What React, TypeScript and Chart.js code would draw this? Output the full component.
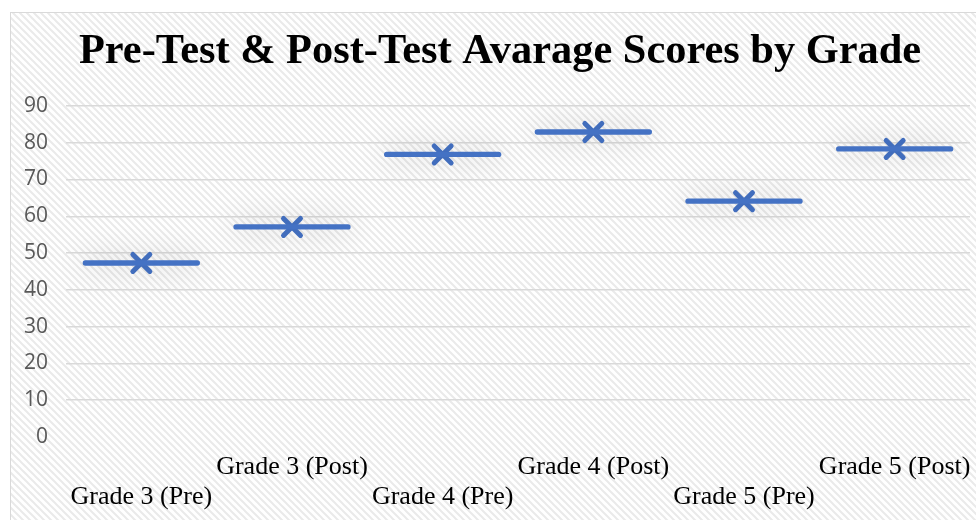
import React, { useEffect, useRef } from "react";
import { Chart, registerables } from "chart.js";

Chart.register(...registerables);

const TITLE = "Pre-Test & Post-Test Avarage Scores by Grade";
const categories = [
  "Grade 3 (Pre)",
  "Grade 3 (Post)",
  "Grade 4 (Pre)",
  "Grade 4 (Post)",
  "Grade 5 (Pre)",
  "Grade 5 (Post)",
];
const scores = [47.3, 57.1, 76.8, 82.9, 64.1, 78.3];
const yMin = 0;
const yMax = 90;
const yStep = 10;

const BLUE = "#4472C4";

function makePattern(): CanvasPattern | string {
  const n = 7;
  const c = document.createElement("canvas");
  c.width = n;
  c.height = n;
  const g = c.getContext("2d");
  if (!g) return "#fff";
  g.fillStyle = "#ffffff";
  g.fillRect(0, 0, n, n);
  g.strokeStyle = "#eaeaea";
  g.lineWidth = 2;
  g.beginPath();
  g.moveTo(-1, -1);
  g.lineTo(n + 1, n + 1);
  g.moveTo(-n - 1, -1);
  g.lineTo(1, n + 1);
  g.moveTo(n - 1, -1);
  g.lineTo(2 * n + 1, n + 1);
  g.stroke();
  const p = g.createPattern(c, "repeat");
  return p || "#fff";
}

const bgPlugin = {
  id: "bgPlugin",
  afterLayout(chart: any) {
    const t = chart.titleBlock;
    if (t) t.left += 20;
  },
  beforeDraw(chart: any) {
    const ctx = chart.ctx;
    ctx.save();
    ctx.fillStyle = "#ffffff";
    ctx.fillRect(0, 0, chart.width, chart.height);
    ctx.fillStyle = makePattern();
    ctx.fillRect(10, 12, chart.width - 10, chart.height - 12);
    ctx.strokeStyle = "#d9d9d9";
    ctx.lineWidth = 1;
    ctx.strokeRect(10.5, 12.5, chart.width + 20, chart.height + 20);
    ctx.restore();
  },
};

const glowPlugin = {
  id: "glowPlugin",
  beforeDatasetDraw(chart: any, args: any) {
    const ctx = chart.ctx;
    ctx.save();
    ctx.lineCap = "round";
    ctx.lineJoin = "round";
    if (args.index === 0) {
      ctx.shadowColor = "rgba(0,0,0,0.3)";
      ctx.shadowBlur = 30;
      ctx.shadowOffsetY = 0;
    }
  },
  afterDatasetDraw(chart: any) {
    chart.ctx.restore();
  },
};

export default function App() {
  const ref = useRef<HTMLCanvasElement | null>(null);
  useEffect(() => {
    if (!ref.current) return;
    const chart = new Chart(ref.current, {
      type: "line",
      data: {
        labels: categories,
        datasets: [
          {
            data: scores,
            showLine: false,
            pointStyle: "line",
            pointRadius: 56,
            pointHoverRadius: 56,
            pointBorderWidth: 5.3,
            pointHoverBorderWidth: 5.3,
            borderColor: BLUE,
            backgroundColor: BLUE,
            clip: false,
          },
          {
            data: scores,
            showLine: false,
            pointStyle: "crossRot",
            pointRadius: 12,
            pointHoverRadius: 12,
            pointBorderWidth: 5,
            pointHoverBorderWidth: 5,
            borderColor: BLUE,
            backgroundColor: BLUE,
            clip: false,
          },
        ],
      },
      options: {
        animation: false,
        responsive: false,
        events: [],
        layout: { autoPadding: false, padding: { left: 10, right: 6, top: 0, bottom: 0 } },
        plugins: {
          legend: { display: false },
          tooltip: { enabled: false },
          title: {
            display: true,
            text: TITLE,
            color: "#000000",
            font: { family: "'Liberation Serif', 'Times New Roman', serif", size: 42.4, weight: "bold", lineHeight: 1.2 },
            padding: { top: 27, bottom: 28 },
          },
        },
        scales: {
          x: {
            offset: true,
            grid: { display: false, drawTicks: false },
            border: { display: false },
            afterFit: (s: any) => {
              s.height = 83;
              s.paddingLeft = 0;
              s.paddingRight = 0;
            },
            ticks: {
              autoSkip: false,
              maxRotation: 0,
              minRotation: 0,
              padding: 15,
              color: "#000000",
              font: { family: "'Liberation Serif', 'Times New Roman', serif", size: 26, lineHeight: 30 / 26 },
              callback: (_v: any, i: number) => (i % 2 === 0 ? ["", categories[i]] : [categories[i]]),
            },
          },
          y: {
            min: yMin,
            max: yMax,
            grid: {
              drawTicks: false,
              color: (c: any) => (c.tick && c.tick.value === 0 ? "rgba(0,0,0,0)" : "#d9d9d9"),
              lineWidth: 1.5,
            },
            border: { display: false },
            afterFit: (s: any) => {
              s.width = 56;
            },
            ticks: {
              stepSize: yStep,
              padding: 18,
              color: "#595959",
              font: { family: "'Open Sans', sans-serif", size: 21 },
            },
          },
        },
      },
      plugins: [bgPlugin, glowPlugin],
    });
    return () => chart.destroy();
  }, []);
  return (
    <div style={{ position: "fixed", left: 0, top: 0, width: 976, height: 520 }}>
      <canvas ref={ref} width={976} height={520} style={{ width: 976, height: 520, display: "block" }} />
    </div>
  );
}
